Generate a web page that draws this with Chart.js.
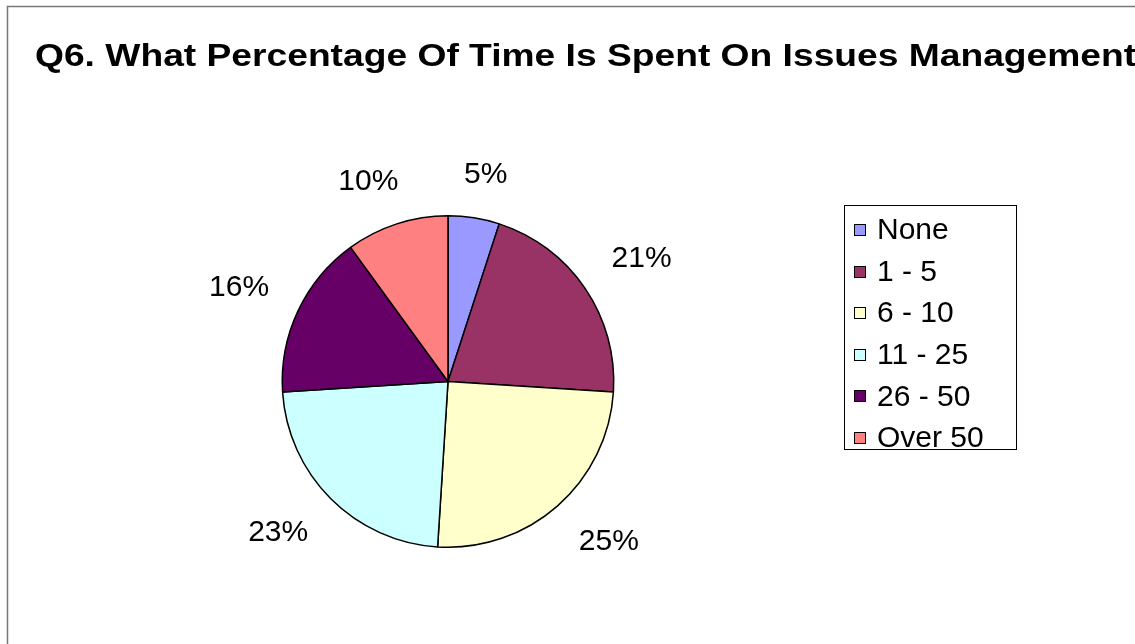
<!DOCTYPE html>
<html>
<head>
<meta charset="utf-8">
<script src="https://cdn.jsdelivr.net/npm/chart.js@4/dist/chart.umd.min.js"></script>
<style>
  html, body { margin: 0; padding: 0; background: #ffffff; overflow: hidden; }
  #wrap { position: relative; width: 1135px; height: 644px; }
</style>
</head>
<body>
<div id="wrap"><canvas id="c" width="1135" height="644"></canvas></div>
<script>
const chartTitle = 'Q6. What Percentage Of Time Is Spent On Issues Management';
const categories = ['None', '1 - 5', '6 - 10', '11 - 25', '26 - 50', 'Over 50'];
const percentValues = [5, 21, 25, 23, 16, 10];
const sliceColors = ['#9999FF', '#993366', '#FFFFCC', '#CCFFFF', '#660066', '#FF8080'];

const FONT = '"Liberation Sans", Arial, Helvetica, sans-serif';

function clamp(v, a, b) { return Math.max(a, Math.min(b, v)); }

const decorPlugin = {
  id: 'decor',
  beforeDraw(chart) {
    const ctx = chart.ctx;
    ctx.save();
    ctx.fillStyle = '#ffffff';
    ctx.fillRect(0, 0, chart.width, chart.height);
    ctx.strokeStyle = '#777777';
    ctx.lineWidth = 1.5;
    ctx.strokeRect(7.5, 6.5, chart.width + 50, chart.height + 50);
    // title (wide bold face, as in the reference)
    ctx.fillStyle = '#000000';
    ctx.font = 'bold 31px ' + FONT;
    ctx.textAlign = 'left';
    ctx.textBaseline = 'alphabetic';
    const sx = 1.2;
    ctx.scale(sx, 1);
    ctx.fillText(chartTitle, 35 / sx, 66);
    ctx.restore();
  },
  afterDraw(chart) {
    const ctx = chart.ctx;
    const meta = chart.getDatasetMeta(0);
    ctx.save();
    // data labels
    ctx.font = '30px ' + FONT;
    ctx.fillStyle = '#000000';
    ctx.textAlign = 'center';
    ctx.textBaseline = 'middle';
    meta.data.forEach((arc, i) => {
      const p = arc.getProps(['x', 'y', 'startAngle', 'endAngle', 'outerRadius'], true);
      const mid = (p.startAngle + p.endAngle) / 2;
      const dx = Math.cos(mid), dy = Math.sin(mid);
      const txt = percentValues[i] + '%';
      const w = ctx.measureText(txt).width;
      const h = 23;
      const r = p.outerRadius + 32;
      const lx = p.x + dx * r + clamp(dx * 2, -1, 1) * w / 2;
      const ly = p.y + dy * r + clamp(dy * 2, -1, 1) * h / 2;
      ctx.fillText(txt, lx, ly);
    });
    // legend box
    const lgX = 844, lgY = 205, lgW = 172, lgH = 244;
    ctx.strokeStyle = '#000000';
    ctx.lineWidth = 1;
    ctx.strokeRect(lgX + 0.5, lgY + 0.5, lgW, lgH);
    ctx.font = '30px ' + FONT;
    ctx.textAlign = 'left';
    ctx.textBaseline = 'middle';
    const rowH = 41.6;
    categories.forEach((cat, i) => {
      const cy = lgY + 25 + i * rowH;
      ctx.fillStyle = sliceColors[i];
      ctx.fillRect(854, Math.round(cy - 6), 12, 12);
      ctx.strokeStyle = '#000000';
      ctx.strokeRect(854.5, Math.round(cy - 6) + 0.5, 11, 11);
      ctx.fillStyle = '#000000';
      ctx.fillText(cat, 877, cy + 1);
    });
    ctx.restore();
  }
};

new Chart(document.getElementById('c'), {
  type: 'pie',
  data: {
    labels: categories,
    datasets: [{
      data: percentValues,
      backgroundColor: sliceColors,
      borderColor: '#000000',
      borderWidth: 1.5,
      borderAlign: 'center'
    }]
  },
  options: {
    responsive: false,
    animation: false,
    events: [],
    layout: { padding: { left: 281, right: 520, top: 215, bottom: 96 } },
    plugins: {
      legend: { display: false },
      title: { display: false },
      tooltip: { enabled: false }
    }
  },
  plugins: [decorPlugin]
});
</script>
</body>
</html>
